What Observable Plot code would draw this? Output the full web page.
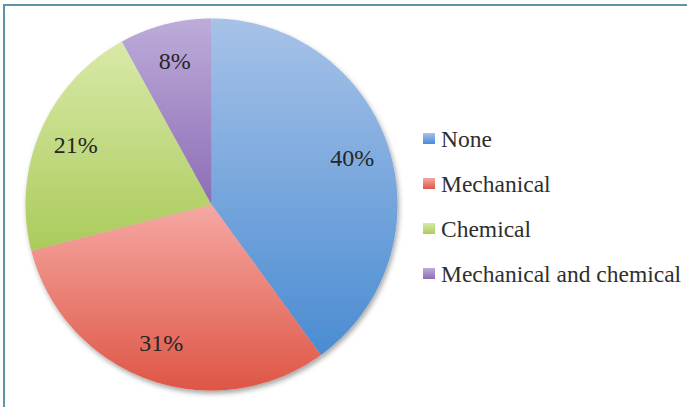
<!DOCTYPE html>
<html><head><meta charset="utf-8">
<script src="https://cdn.jsdelivr.net/npm/d3@7"></script>
<script src="https://cdn.jsdelivr.net/npm/@observablehq/plot@0.6"></script>
<style>
html,body{margin:0;padding:0;background:#fff;}
#wrap{position:relative;width:687px;height:407px;overflow:hidden;font-family:"Liberation Serif",serif;}
#frame{position:absolute;left:3px;top:4px;width:700px;height:420px;border-left:2px solid #5e95a3;border-top:2px solid #5e95a3;box-sizing:border-box;}
#chart{position:absolute;left:0;top:0;}
.item{position:absolute;left:423px;height:24px;font-size:23.5px;line-height:24px;color:#2f2f2f;white-space:nowrap;}
.item .sw{position:absolute;left:0;top:6px;width:12px;height:11px;}
.item .tx{position:absolute;left:18px;top:0;}
</style>
</head><body>
<div id="wrap"><div id="frame"></div><div id="chart"></div><div id="legend"></div></div>
<script>
const categories = ["None", "Mechanical", "Chemical", "Mechanical and chemical"];
const values = [40, 31, 21, 8];
const valueLabels = ["40%", "31%", "21%", "8%"];

// styles
const topColors = ["#a7c2e8", "#f5a8a2", "#d9e9a8", "#bdacda"];
const bottomColors = ["#4a8cd2", "#de5646", "#aacb5b", "#8d6db5"];
const W = 687, H = 407, CX = 211, CY = 204, R = 186, LR = 148;

const arcs = d3.pie().sort(null).value(d => d)(values);
const slicePts = [];
arcs.forEach((a, i) => {
  const g = `url(#grad${i})`;
  slicePts.push({cat: categories[i], g, x: 0, y: 0});
  const n = Math.max(8, Math.ceil((a.endAngle - a.startAngle) / 0.01));
  for (let k = 0; k <= n; k++) {
    const t = a.startAngle + (a.endAngle - a.startAngle) * k / n;
    slicePts.push({cat: categories[i], g, x: R * Math.sin(t), y: R * Math.cos(t)});
  }
});
const labelPts = arcs.map((a, i) => {
  const m = (a.startAngle + a.endAngle) / 2;
  return {label: valueLabels[i], x: LR * Math.sin(m), y: LR * Math.cos(m)};
});

const defsMark = () => {
  const defs = d3.create("svg:defs");
  categories.forEach((c, i) => {
    const lg = defs.append("linearGradient").attr("id", `grad${i}`)
      .attr("x1", 0).attr("y1", 0).attr("x2", 0).attr("y2", 1);
    lg.append("stop").attr("offset", "0%").attr("stop-color", topColors[i]);
    lg.append("stop").attr("offset", "100%").attr("stop-color", bottomColors[i]);
  });
  const f = defs.append("filter").attr("id", "shadow").attr("x", "-10%").attr("y", "-10%").attr("width", "125%").attr("height", "125%");
  f.append("feDropShadow").attr("dx", 1.5).attr("dy", 3).attr("stdDeviation", 2.5)
    .attr("flood-color", "#000").attr("flood-opacity", 0.35);
  return defs.node();
};

const chart = Plot.plot({
  width: W, height: H,
  margin: 0,
  x: {domain: [-CX, W - CX], range: [0, W], axis: null},
  y: {domain: [-(H - CY), CY], range: [H, 0], axis: null},
  color: {type: "identity"},
  marks: [
    defsMark,
    Plot.line(slicePts, {x: "x", y: "y", z: "cat", fill: "g", stroke: "none", curve: "linear-closed"}),
    Plot.text(labelPts, {x: "x", y: "y", text: "label", fontSize: 24, fontFamily: "Liberation Serif", fill: "#262626"})
  ]
});
d3.select(chart).style("background", "transparent");
d3.select(chart).select("g[aria-label=line]").attr("filter", "url(#shadow)");
document.getElementById("chart").appendChild(chart);

const baselines = [147, 192, 237, 282];
const legend = d3.select("#legend");
categories.forEach((c, i) => {
  const it = legend.append("div").attr("class", "item").style("top", (baselines[i] - 20) + "px");
  it.append("div").attr("class", "sw")
    .style("background", `linear-gradient(${topColors[i]}, ${bottomColors[i]})`);
  it.append("div").attr("class", "tx").text(c);
});
</script>
</body></html>
